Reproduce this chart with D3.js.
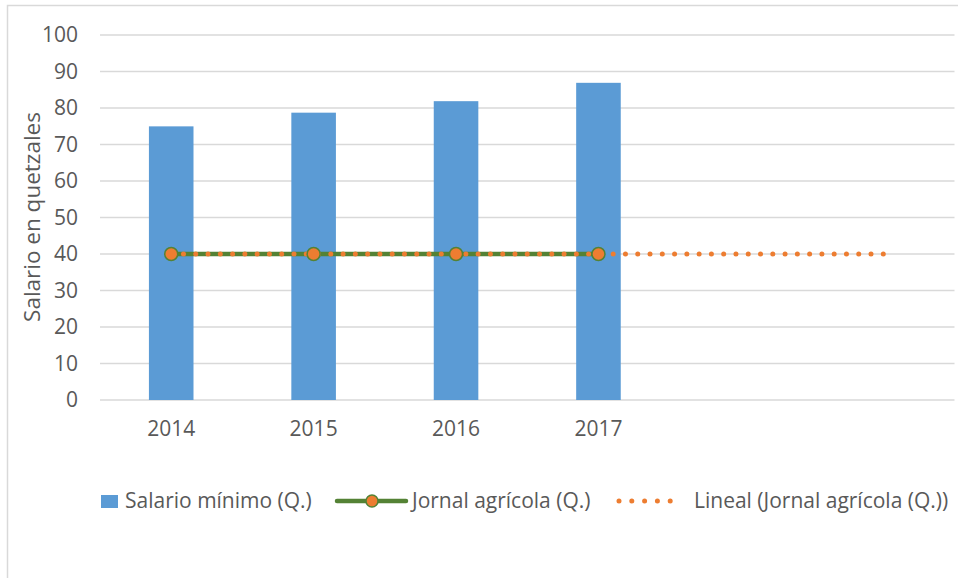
<!DOCTYPE html>
<html>
    <head>
        <meta charset="utf-8">
        <script src="https://d3js.org/d3.v7.min.js"></script>
        <style>
            body { margin: 0; background: #fff; }
            svg { display: block; font-family: 'Open Sans', sans-serif; }
        </style>
    </head>
    <body>
        <script>
            // categories (two empty slots at the end hold the trendline forecast)
            const years = ['2014', '2015', '2016', '2017', '', ' ']
            const salarioMinimo = [74.97, 78.72, 81.87, 86.90]
            const jornalAgricola = [40, 40, 40, 40]
            const yTicks = [0, 10, 20, 30, 40, 50, 60, 70, 80, 90, 100]
            const forecastPeriods = 2

            const textColor = '#595959'
            const barColor = '#5B9BD5'
            const lineColor = '#548235'
            const markerColor = '#ED7D31'
            const fontSize = '21px'

            const svg = d3.select('body').append('svg')
                .attr('width', 958)
                .attr('height', 578)

            // outer chart border
            svg.append('rect')
                .attr('x', 7.5).attr('y', 5.5)
                .attr('width', 970).attr('height', 600)
                .attr('fill', 'white')
                .attr('stroke', '#d9d9d9').attr('stroke-width', 1.5)

            const plot = { left: 100, right: 954.5, top: 35, bottom: 400 }

            const xScale = d3.scaleBand().domain(years).range([plot.left, plot.right])
            const yScale = d3.scaleLinear().domain([0, 100]).range([plot.bottom, plot.top])
            const cx = i => xScale(years[i]) + xScale.bandwidth() / 2

            // dotted pattern that fits a whole number of dots in a length
            const dots = len => {
                const step = len / Math.round(len / 12.3)
                return `0 ${step}`
            }

            // gridlines
            svg.append('g').selectAll('line')
                .data(yTicks).enter()
                .append('line')
                    .attr('x1', plot.left).attr('x2', plot.right)
                    .attr('y1', d => yScale(d)).attr('y2', d => yScale(d))
                    .attr('stroke', '#d9d9d9').attr('stroke-width', 1.5)

            // y axis labels
            const yAxis = d3.axisLeft(yScale).tickValues(yTicks).tickSize(0).tickPadding(22)
            const yg = svg.append('g').attr('transform', `translate(${plot.left}, 0)`).call(yAxis)
            yg.select('.domain').remove()
            yg.selectAll('text')
                .attr('fill', textColor)
                .style('font-size', fontSize)
                .style('font-family', "'Open Sans', sans-serif")

            // x axis labels
            const xAxis = d3.axisBottom(xScale).tickSize(0).tickPadding(21)
            const xg = svg.append('g').attr('transform', `translate(0, ${plot.bottom})`).call(xAxis)
            xg.select('.domain').remove()
            xg.selectAll('text')
                .attr('fill', textColor)
                .style('font-size', fontSize)
                .style('font-family', "'Open Sans', sans-serif")

            // bars
            const barWidth = xScale.bandwidth() * 0.313
            svg.append('g').selectAll('rect')
                .data(salarioMinimo).enter()
                .append('rect')
                    .attr('x', (d, i) => cx(i) - barWidth / 2)
                    .attr('y', d => yScale(d))
                    .attr('width', barWidth)
                    .attr('height', d => yScale(0) - yScale(d))
                    .attr('fill', barColor)

            // jornal line
            const line = d3.line()
                .x((d, i) => cx(i))
                .y(d => yScale(d))
            svg.append('path')
                .datum(jornalAgricola)
                .attr('d', line)
                .attr('fill', 'none')
                .attr('stroke', lineColor)
                .attr('stroke-width', 4.5)

            // linear trendline fitted to jornal values, extended forward
            const n = jornalAgricola.length
            const xs = d3.range(1, n + 1)
            const mx = d3.mean(xs), my = d3.mean(jornalAgricola)
            const slope = d3.sum(xs, (x, i) => (x - mx) * (jornalAgricola[i] - my)) /
                d3.sum(xs, x => (x - mx) * (x - mx))
            const intercept = my - slope * mx
            const trend = d3.range(n + forecastPeriods).map(i => intercept + slope * (i + 1))
            const x0 = cx(0), x1 = cx(trend.length - 1)
            svg.append('line')
                .attr('x1', x0).attr('y1', yScale(trend[0]))
                .attr('x2', x1).attr('y2', yScale(trend[trend.length - 1]))
                .attr('stroke', markerColor)
                .attr('stroke-width', 5)
                .attr('stroke-linecap', 'round')
                .attr('stroke-dasharray', dots(x1 - x0))

            // markers
            svg.append('g').selectAll('circle')
                .data(jornalAgricola).enter()
                .append('circle')
                    .attr('cx', (d, i) => cx(i))
                    .attr('cy', d => yScale(d))
                    .attr('r', 6.5)
                    .attr('fill', markerColor)
                    .attr('stroke', lineColor)
                    .attr('stroke-width', 1.5)

            // y axis title
            svg.append('text')
                .attr('transform', 'translate(40, 217) rotate(-90)')
                .attr('text-anchor', 'middle')
                .attr('fill', textColor)
                .style('font-size', '22.5px')
                .text('Salario en quetzales')

            // legend
            const legendY = 501
            const legend = svg.append('g').style('font-size', fontSize).attr('fill', textColor)

            legend.append('rect')
                .attr('x', 101).attr('y', legendY - 6)
                .attr('width', 17).attr('height', 13)
                .attr('fill', barColor)
            legend.append('text')
                .attr('x', 125).attr('y', legendY).attr('dy', '0.35em')
                .text('Salario mínimo (Q.)')

            legend.append('line')
                .attr('x1', 337).attr('x2', 406)
                .attr('y1', legendY).attr('y2', legendY)
                .attr('stroke', lineColor).attr('stroke-width', 4.5)
                .attr('stroke-linecap', 'round')
            legend.append('circle')
                .attr('cx', 372).attr('cy', legendY).attr('r', 6)
                .attr('fill', markerColor)
                .attr('stroke', lineColor).attr('stroke-width', 1.5)
            legend.append('text')
                .attr('x', 412).attr('y', legendY).attr('dy', '0.35em')
                .text('Jornal agrícola (Q.)')

            legend.append('line')
                .attr('x1', 619).attr('x2', 683)
                .attr('y1', legendY).attr('y2', legendY)
                .attr('stroke', markerColor).attr('stroke-width', 5)
                .attr('stroke-linecap', 'round')
                .attr('stroke-dasharray', dots(683 - 619))
            legend.append('text')
                .attr('x', 694).attr('y', legendY).attr('dy', '0.35em')
                .text('Lineal (Jornal agrícola (Q.))')
        </script>
    </body>
</html>
